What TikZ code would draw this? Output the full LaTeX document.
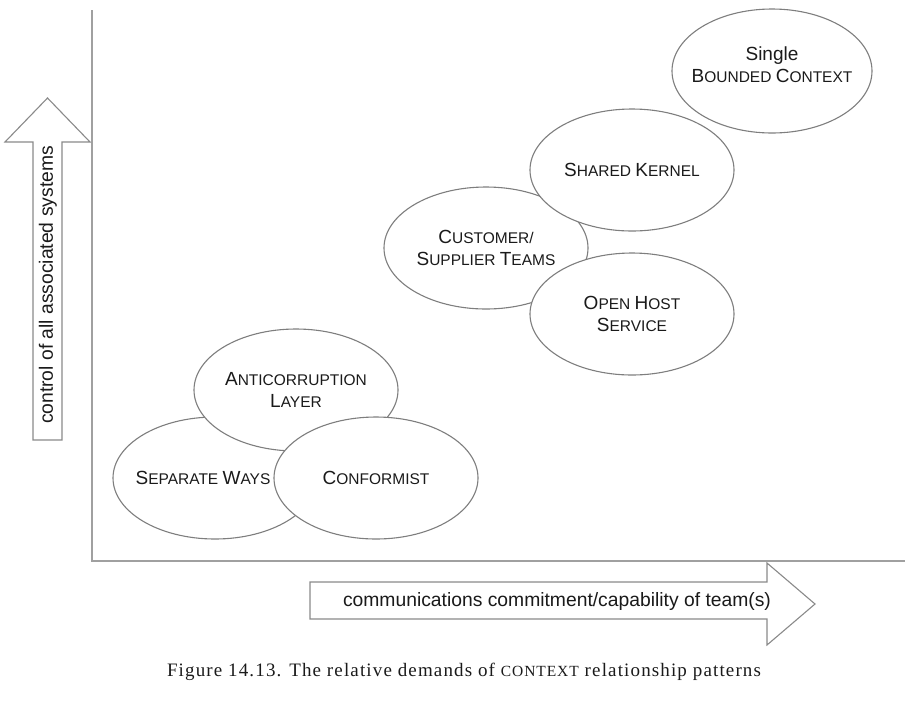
\documentclass[tikz,border=0pt]{standalone}
\usepackage{fontspec}
\setmainfont{Liberation Serif}
\newfontfamily\arialf{Liberation Sans}
\newfontfamily\capf[LetterSpace=6]{Liberation Serif}
\usetikzlibrary{shapes.geometric}
\definecolor{axgray}{HTML}{A0A0A0}
\definecolor{arrgray}{HTML}{8A8A8A}
\definecolor{ellgray}{HTML}{7E7E7E}
\definecolor{txtc}{HTML}{1A1A1A}
\newcommand\BigL[1]{{\fontsize{19}{22}\selectfont #1}}
\tikzset{
  pat/.style={ellipse, draw=ellgray, line width=1.1pt, fill=white,
    minimum width=204pt, minimum height=122pt, inner sep=0pt, align=center,
    font=\arialf\fontsize{15.5}{22}\selectfont, text=txtc},
  pattext/.style={inner sep=0pt, align=center,
    font=\arialf\fontsize{15.5}{22}\selectfont, text=txtc},
  axisline/.style={draw=axgray, line width=2pt},
  bigarrow/.style={draw=arrgray, line width=1.1pt, fill=white, line join=miter},
  axlabel/.style={font=\arialf\fontsize{19.3}{22}\selectfont, text=txtc, inner sep=0pt},
  caption/.style={font=\capf\fontsize{19}{22}\selectfont, text=txtc, inner sep=0pt}
}
\begin{document}
\begin{tikzpicture}[x=1pt,y=-1pt]
\useasboundingbox (0,0) rectangle (905,705);
% axes
\coordinate (top) at (92,10);
\coordinate (origin) at (92,561);
\coordinate (right) at (905,561);
\draw[axisline] (top) -- (origin) -- (right);
% vertical arrow
\draw[bigarrow] (33,440) -- (33,142) -- (5,142) -- (47.5,98) -- (90,142) -- (62,142) -- (62,440) -- cycle;
\node[axlabel, rotate=90] (ylab) at (48,285) {control of all associated systems};
% horizontal arrow
\draw[bigarrow] (310,582) -- (767,582) -- (767,563) -- (815,604) -- (767,645) -- (767,619) -- (310,619) -- cycle;
\node[axlabel] (xlab) at (557,601) {communications commitment/capability of team(s)};
% lower group
\node[pat] (sw) at (215,478) {};
\node[pattext] (swt) at (203,478) {\BigL{S}EPARATE \BigL{W}AYS};
\node[pat] (acl) at (296,390) {\BigL{A}NTICORRUPTION\\\BigL{L}AYER};
\node[pat] (cf) at (376,478) {\BigL{C}ONFORMIST};
% upper group
\node[pat] (cst) at (486,248) {\BigL{C}USTOMER/\\\BigL{S}UPPLIER \BigL{T}EAMS};
\node[pat] (sk) at (632,170) {\BigL{S}HARED \BigL{K}ERNEL};
\node[pat] (ohs) at (632,314) {\BigL{O}PEN \BigL{H}OST\\\BigL{S}ERVICE};
\node[pat, minimum width=200pt, minimum height=124pt] (sbc) at (772,71) {};
\node[pattext] (sbct) at (772,65) {\BigL{Single}\\\BigL{B}OUNDED \BigL{C}ONTEXT};
% caption
\node[caption] (cap) at (464,672) {Figure 14.13. The relative demands of {\fontsize{15.5}{22}\selectfont CONTEXT} relationship patterns};
\end{tikzpicture}
\end{document}
